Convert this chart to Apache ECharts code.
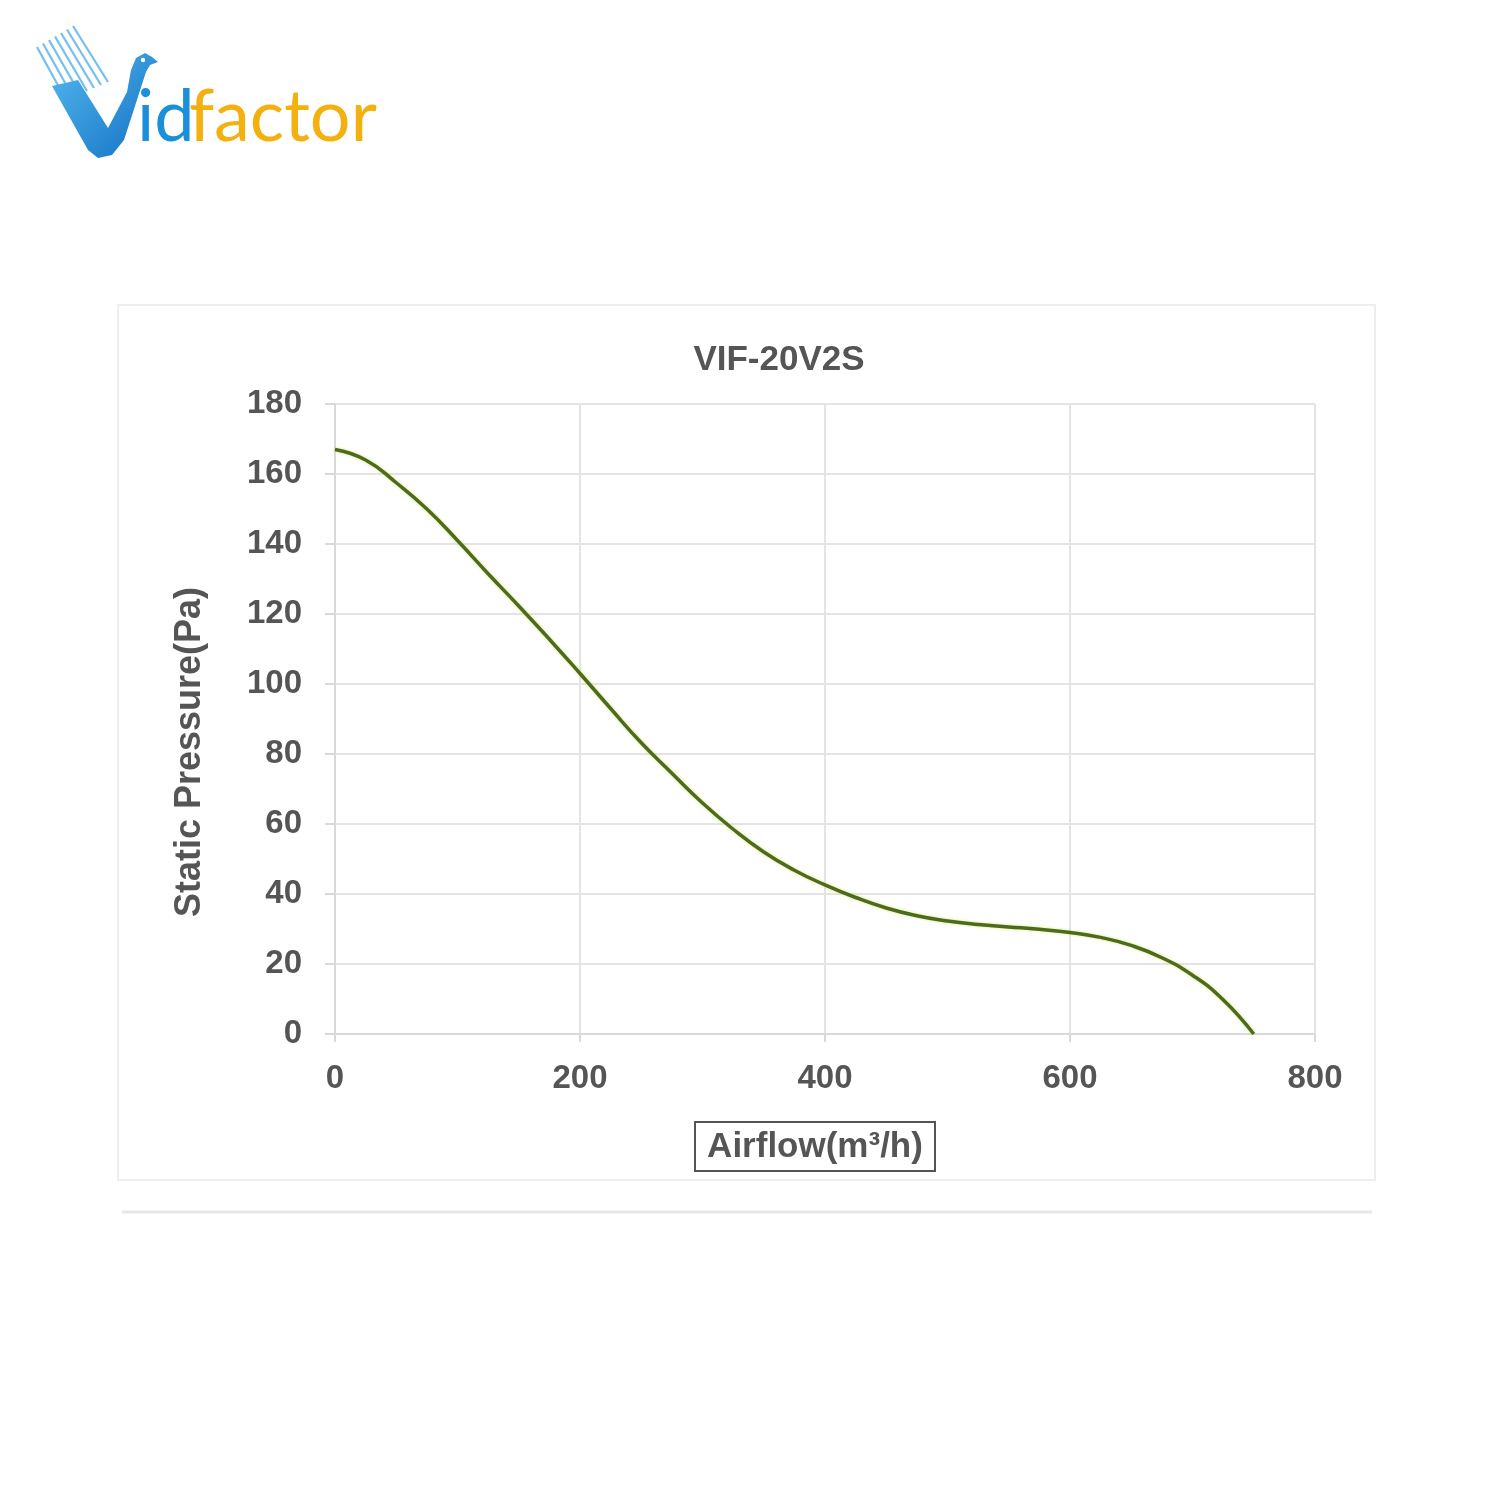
<!DOCTYPE html>
<html>
<head>
<meta charset="utf-8">
<script src="https://cdn.jsdelivr.net/npm/echarts@6/dist/echarts.min.js"></script>
<style>html,body{margin:0;padding:0;background:#fff}#c{width:1500px;height:1500px}</style>
</head>
<body>
<div id="c"></div>
<script>
var airflow = [0,25,50,75,100,125,150,175,200,225,250,275,300,325,350,375,400,425,450,475,500,525,550,575,600,625,650,675,700,725,750];
var pressure = [167,164,157.5,150,141,131.5,122.3,112.8,103,93,83.2,74.5,66,58.5,52,46.8,42.6,39,36,33.8,32.3,31.3,30.6,29.9,29,27.6,25.3,21.8,16.8,9.8,0];
var xTicks = [0,200,400,600,800];
var yTicks = [0,20,40,60,80,100,120,140,160,180];
var title = 'VIF-20V2S';
var xName = 'Airflow(m³/h)';
var yName = 'Static Pressure(Pa)';

var data = airflow.map(function(x,i){return [x,pressure[i]];});
var chart = echarts.init(document.getElementById('c'));
var FONT = 'Liberation Sans, Arial, sans-serif';
var labelStyle = {fontFamily:FONT, fontWeight:'bold', fontSize:33, color:'#555'};

var streaks = [];
for (var i=0;i<7;i++){
  streaks.push({type:'line', shape:{x1:37+6*i, y1:47-3.5*i, x2:66+7*i, y2:100-3*i}, style:{stroke:'#45aaea', lineWidth:2.2, opacity:0.75}});
}

chart.setOption({
  backgroundColor:'#fff',
  graphic:[
    {type:'rect', shape:{x:118,y:305,width:1257,height:875}, style:{fill:'#fff', stroke:'#eeeeee', lineWidth:2}, z:-10},
    {type:'line', shape:{x1:122,y1:1212,x2:1372,y2:1212}, style:{stroke:'#e8e8e8', lineWidth:3}, z:-10},
    {type:'group', children: streaks},
    {type:'polygon', shape:{points:[[52,86],[78,80],[108,128],[127,92],[131,70],[136,58],[145,53],[152,57],[158,62],[150,65],[146,72],[124,140],[112,155],[98,158],[88,150]]},
      style:{fill:new echarts.graphic.LinearGradient(0,0,1,1,[{offset:0,color:'#55b8f0'},{offset:1,color:'#1270c2'}])}},
    {type:'circle', shape:{cx:143,cy:60,r:2.2}, style:{fill:'#ffffff'}},
    {type:'text', x:137, y:154, style:{text:'id', font:'72px Lato, sans-serif', fill:'#1b8fd9', textVerticalAlign:'bottom'}},
    {type:'text', x:189, y:154, style:{text:'factor', font:'72px Lato, sans-serif', fill:'#f4b00f', textVerticalAlign:'bottom'}},
    {type:'text', x:779, y:360, style:{text:title, font:'bold 35px '+FONT, fill:'#555', textAlign:'center', textVerticalAlign:'middle'}},
    {type:'text', x:190, y:752, rotation:Math.PI/2, style:{text:yName, font:'bold 36px '+FONT, fill:'#555', textAlign:'center', textVerticalAlign:'middle'}},
    {type:'rect', shape:{x:695,y:1122,width:240,height:49}, style:{fill:'none', stroke:'#555', lineWidth:2}},
    {type:'text', x:815, y:1147, style:{text:xName, font:'bold 35px '+FONT, fill:'#555', textAlign:'center', textVerticalAlign:'middle'}}
  ],
  grid:{left:335, right:185, top:404, bottom:466, containLabel:false},
  xAxis:{
    type:'value', min:0, max:800, interval:200,
    axisLine:{show:true, lineStyle:{color:'#d9d9d9', width:2}},
    axisTick:{show:true, length:8, lineStyle:{color:'#d9d9d9', width:2}},
    axisLabel:Object.assign({margin:28, formatter:function(v){return xTicks.indexOf(v)>=0?String(v):'';}}, labelStyle),
    splitLine:{show:true, lineStyle:{color:'#e4e4e4', width:2}}
  },
  yAxis:{
    type:'value', min:0, max:180, interval:20,
    axisLine:{show:true, lineStyle:{color:'#d9d9d9', width:2}},
    axisTick:{show:true, length:10, lineStyle:{color:'#d9d9d9', width:2}},
    axisLabel:Object.assign({margin:33, formatter:function(v){return yTicks.indexOf(v)>=0?String(v):'';}}, labelStyle),
    splitLine:{show:true, lineStyle:{color:'#e4e4e4', width:2}}
  },
  series:[{
    type:'line', data:data, smooth:0.5, showSymbol:false,
    lineStyle:{color:'#4e6a1e', width:3.5, shadowColor:'rgba(200,230,80,0.8)', shadowBlur:3}
  }]
});
</script>
</body>
</html>
